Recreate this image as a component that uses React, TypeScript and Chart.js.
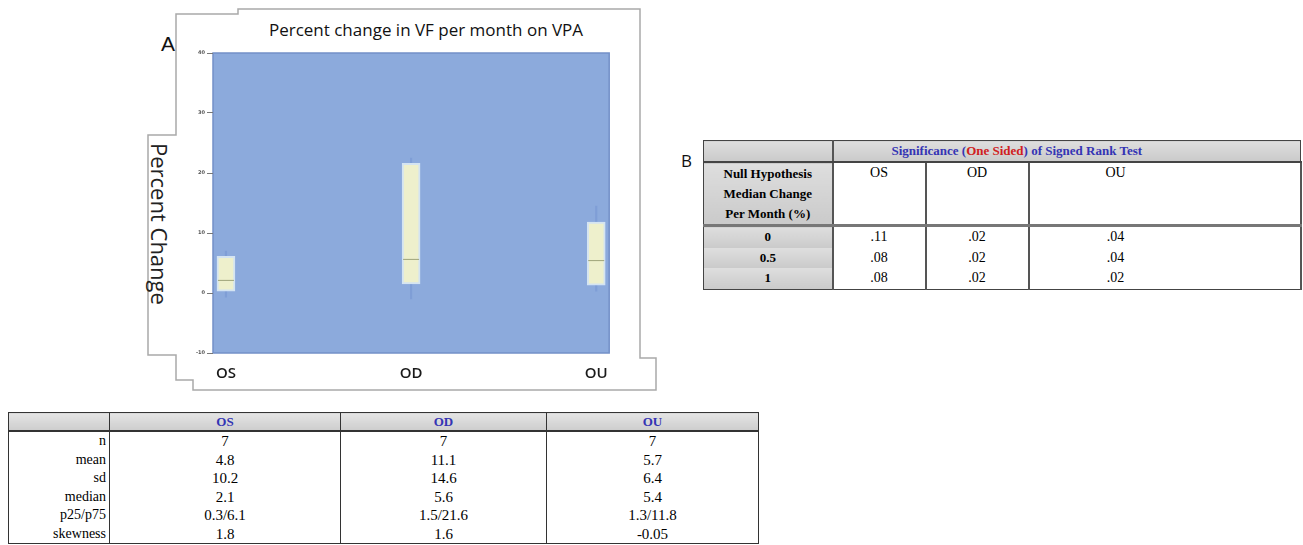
import React, { useEffect, useRef } from "react";
import { Chart, registerables } from "chart.js";

Chart.register(...registerables);

// ---- data ----
const groups = ["OS", "OD", "OU"];
const p25 = [0.3, 1.5, 1.3];
const p75 = [6.1, 21.6, 11.8];
const medians = [2.1, 5.6, 5.4];
const whiskerLow = [-0.7, -1.0, 0.3];
const whiskerHigh = [7.0, 22.5, 14.5];
const yTicks = [-10, 0, 10, 20, 30, 40];

const statRows = ["n", "mean", "sd", "median", "p25/p75", "skewness"];
const statOS = ["7", "4.8", "10.2", "2.1", "0.3/6.1", "1.8"];
const statOD = ["7", "11.1", "14.6", "5.6", "1.5/21.6", "1.6"];
const statOU = ["7", "5.7", "6.4", "5.4", "1.3/11.8", "-0.05"];

const nullHyp = ["0", "0.5", "1"];
const sigOS = [".11", ".08", ".08"];
const sigOD = [".02", ".02", ".02"];
const sigOU = [".04", ".04", ".02"];

const plotBg = {
  id: "plotBg",
  beforeDraw(chart: any) {
    const { ctx, chartArea: a } = chart;
    ctx.save();
    ctx.fillStyle = "#8caadc";
    ctx.fillRect(a.left, a.top, a.right - a.left, a.bottom - a.top);
    ctx.strokeStyle = "#7390c8";
    ctx.lineWidth = 1.5;
    ctx.strokeRect(a.left, a.top, a.right - a.left, a.bottom - a.top);
    ctx.restore();
  },
};

function BoxChart() {
  const ref = useRef<HTMLCanvasElement>(null);
  useEffect(() => {
    const chart = new Chart(ref.current as HTMLCanvasElement, {
      type: "bar",
      data: {
        datasets: [
          {
            type: "bar",
            label: "whisker",
            data: groups.map((_, i) => ({ x: i, y: [whiskerLow[i], whiskerHigh[i]] })) as any,
            backgroundColor: "#7f9ed6",
            borderWidth: 0,
            barThickness: 1.5,
            grouped: false,
            order: 3,
          } as any,
          {
            type: "bar",
            label: "box",
            data: groups.map((_, i) => ({ x: i, y: [p25[i], p75[i]] })) as any,
            backgroundColor: "#eef0cc",
            borderColor: "#d4e4f2",
            borderWidth: 2,
            borderSkipped: false,
            barThickness: 18,
            grouped: false,
            order: 2,
          } as any,
          {
            type: "scatter",
            label: "median",
            data: groups.map((_, i) => ({ x: i, y: medians[i] })),
            pointStyle: "line",
            pointRadius: 8,
            borderColor: "#9ea47a",
            borderWidth: 1,
            order: 1,
          } as any,
        ],
      },
      options: {
        animation: false,
        responsive: true,
        maintainAspectRatio: false,
        layout: { padding: { top: 6, right: 8, left: 0, bottom: 0 } },
        plugins: { legend: { display: false }, tooltip: { enabled: false } },
        scales: {
          x: {
            type: "linear",
            offset: false,
            min: -0.07,
            max: 2.07,
            afterBuildTicks: (s: any) => {
              s.ticks = groups.map((_, i) => ({ value: i }));
            },
            afterFit: (s: any) => {
              s.height = 31;
            },
            grid: { display: false, drawTicks: false, offset: false },
            border: { display: false },
            ticks: {
              padding: 12,
              autoSkip: false,
              maxRotation: 0,
              callback: (v: any) => groups[Number(v)] ?? "",
              font: { family: "Open Sans", size: 15, weight: 600 },
              color: "#1a1a1a",
            },
          },
          y: {
            type: "linear",
            min: -10,
            max: 40,
            afterBuildTicks: (s: any) => {
              s.ticks = yTicks.map((v) => ({ value: v }));
            },
            afterFit: (s: any) => {
              s.width = 33;
            },
            grid: { drawOnChartArea: false, tickLength: 6, color: "#777" },
            border: { display: false },
            ticks: {
              padding: 2,
              font: { family: "DejaVu Sans", size: 5, weight: "bold" },
              color: "#555",
            },
          },
        },
      } as any,
      plugins: [plotBg],
    });
    return () => chart.destroy();
  }, []);
  return <canvas ref={ref} />;
}

const serif = "'Liberation Serif', 'Times New Roman', serif";
const bdr = "1.5px solid #333";

function StatsTable() {
  const hdr: React.CSSProperties = {
    background: "linear-gradient(#e4e4e4, #cdcdcd)",
    color: "#3434b4",
    fontWeight: "bold",
    fontSize: 13,
    textAlign: "center",
    border: bdr,
    borderBottom: "2px solid #333",
    height: 17,
    padding: 0,
  };
  const cell: React.CSSProperties = {
    borderLeft: bdr,
    borderRight: bdr,
    textAlign: "center",
    padding: 0,
    height: 18.5,
    fontSize: 15,
    lineHeight: "18px",
    color: "#000",
  };
  return (
    <table
      style={{
        position: "absolute",
        left: 8,
        top: 412,
        width: 750,
        borderCollapse: "collapse",
        tableLayout: "fixed",
        fontFamily: serif,
        border: bdr,
      }}
    >
      <colgroup>
        <col style={{ width: 101 }} />
        <col style={{ width: 231 }} />
        <col style={{ width: 206 }} />
        <col style={{ width: 212 }} />
      </colgroup>
      <tbody>
        <tr>
          <td style={hdr}></td>
          {groups.map((g) => (
            <td key={g} style={hdr}>
              {g}
            </td>
          ))}
        </tr>
        {statRows.map((r, i) => (
          <tr key={r}>
            <td style={{ ...cell, textAlign: "right", paddingRight: 3, fontSize: 14 }}>{r}</td>
            <td style={cell}>{statOS[i]}</td>
            <td style={cell}>{statOD[i]}</td>
            <td style={cell}>{statOU[i]}</td>
          </tr>
        ))}
      </tbody>
    </table>
  );
}

function SigTable() {
  const gray = "linear-gradient(#dedede, #cacaca)";
  const vline = "2px solid #555";
  const base: React.CSSProperties = {
    padding: 0,
    fontSize: 14,
    textAlign: "center",
    color: "#000",
  };
  const lab: React.CSSProperties = {
    ...base,
    background: gray,
    fontWeight: "bold",
    fontSize: 13,
    borderRight: vline,
    lineHeight: "20px",
  };
  const val = (extra: React.CSSProperties = {}): React.CSSProperties => ({
    ...base,
    height: 20.5,
    lineHeight: "20px",
    borderRight: vline,
    ...extra,
  });
  return (
    <table
      style={{
        position: "absolute",
        left: 703,
        top: 140,
        width: 597,
        borderCollapse: "collapse",
        tableLayout: "fixed",
        fontFamily: serif,
        border: "1.5px solid #444",
      }}
    >
      <colgroup>
        <col style={{ width: 129 }} />
        <col style={{ width: 93 }} />
        <col style={{ width: 103 }} />
        <col style={{ width: 272 }} />
      </colgroup>
      <tbody>
        <tr>
          <td style={{ ...lab, height: 20, borderBottom: "2px solid #444" }}></td>
          <td
            colSpan={3}
            style={{
              ...base,
              background: gray,
              fontWeight: "bold",
              fontSize: 13,
              color: "#3434b4",
              paddingRight: 100,
              height: 20,
              borderBottom: "2px solid #444",
            }}
          >
            Significance (<span style={{ color: "#d02020" }}>One Sided</span>) of Signed Rank Test
          </td>
        </tr>
        <tr>
          <td style={{ ...lab, height: 59, verticalAlign: "top", paddingTop: 1, borderBottom: "3px solid #777" }}>
            Null Hypothesis
            <br />
            Median Change
            <br />
            Per Month (%)
          </td>
          <td style={{ ...val({ verticalAlign: "top", borderBottom: "3px solid #777" }), height: 59 }}>OS</td>
          <td style={{ ...val({ verticalAlign: "top", borderBottom: "3px solid #777" }), height: 59 }}>OD</td>
          <td style={{ ...val({ verticalAlign: "top", borderBottom: "3px solid #777", paddingRight: 98 }), height: 59 }}>OU</td>
        </tr>
        {nullHyp.map((h, i) => (
          <tr key={h}>
            <td style={{ ...lab, height: 20.5 }}>{h}</td>
            <td style={val()}>{sigOS[i]}</td>
            <td style={val()}>{sigOD[i]}</td>
            <td style={val({ paddingRight: 98 })}>{sigOU[i]}</td>
          </tr>
        ))}
      </tbody>
    </table>
  );
}

export default function App() {
  return (
    <div
      style={{
        position: "absolute",
        left: 0,
        top: 0,
        width: 1303,
        height: 545,
        background: "#fff",
        overflow: "hidden",
      }}
    >
      <svg width={1303} height={545} style={{ position: "absolute", left: 0, top: 0 }}>
        <polygon
          points="176,135 176,14 238,14 238,9 640,9 640,358 656,358 656,390 193,390 193,380 176,380 176,355 148,355 148,135"
          fill="#fff"
          stroke="#a9a9a9"
          strokeWidth={1.5}
        />
      </svg>
      <div
        style={{
          position: "absolute",
          left: 226,
          top: 19,
          width: 400,
          textAlign: "center",
          fontFamily: "'Open Sans', sans-serif",
          fontSize: 17,
          fontWeight: 500,
          lineHeight: "22px",
          color: "#111",
        }}
      >
        Percent change in VF per month on VPA
      </div>
      <div
        style={{
          position: "absolute",
          left: 161,
          top: 32,
          fontFamily: "'Liberation Sans', Arial, sans-serif",
          fontSize: 21,
          lineHeight: "24px",
          color: "#111",
        }}
      >
        A
      </div>
      <div
        style={{
          position: "absolute",
          left: 148,
          top: 143,
          writingMode: "vertical-rl",
          fontFamily: "'Open Sans', sans-serif",
          fontSize: 22,
          lineHeight: "24px",
          color: "#222",
        }}
      >
        Percent Change
      </div>
      <div style={{ position: "absolute", left: 180, top: 44, width: 440, height: 340 }}>
        <BoxChart />
      </div>
      <div
        style={{
          position: "absolute",
          left: 681,
          top: 150,
          fontFamily: "'Open Sans', sans-serif",
          fontSize: 17,
          lineHeight: "22px",
          color: "#111",
        }}
      >
        B
      </div>
      <StatsTable />
      <SigTable />
    </div>
  );
}
